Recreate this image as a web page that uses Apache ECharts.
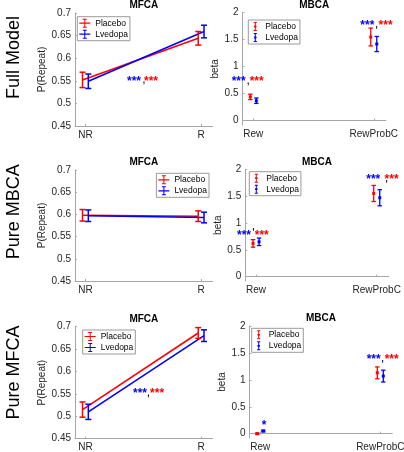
<!DOCTYPE html>
<html><head><meta charset="utf-8">
<script src="https://cdn.jsdelivr.net/npm/echarts@6/dist/echarts.min.js"></script>
<style>html,body{margin:0;padding:0;background:#fff}#c{width:404px;height:452px}</style>
</head><body><div id="c"></div>
<script>
// ---------- data ----------
const mfcaCategories = ['NR', 'R'];
const mbcaCategories = ['Rew', 'RewProbC'];
const rowLabels = ['Full Model', 'Pure MBCA', 'Pure MFCA'];
const mfcaTicks = [0.45, 0.5, 0.55, 0.6, 0.65, 0.7];
const mbcaTicks = [0, 0.5, 1, 1.5, 2];
const groups = ['Placebo', 'Lvedopa'];

const fullMfcaPlacebo = [0.552, 0.644];
const fullMfcaPlaceboErr = [0.017, 0.015];
const fullMfcaLvedopa = [0.549, 0.659];
const fullMfcaLvedopaErr = [0.016, 0.014];
const fullMbcaPlacebo = [0.44, 1.55];
const fullMbcaPlaceboErr = [0.05, 0.165];
const fullMbcaLvedopa = [0.37, 1.42];
const fullMbcaLvedopaErr = [0.05, 0.14];

const mbMfcaPlacebo = [0.598, 0.596];
const mbMfcaPlaceboErr = [0.013, 0.012];
const mbMfcaLvedopa = [0.597, 0.593];
const mbMfcaLvedopaErr = [0.013, 0.012];
const mbMbcaPlacebo = [0.62, 1.55];
const mbMbcaPlaceboErr = [0.07, 0.15];
const mbMbcaLvedopa = [0.65, 1.47];
const mbMbcaLvedopaErr = [0.07, 0.15];

const mfMfcaPlacebo = [0.515, 0.686];
const mfMfcaPlaceboErr = [0.017, 0.012];
const mfMfcaLvedopa = [0.51, 0.68];
const mfMfcaLvedopaErr = [0.017, 0.013];
const mfMbcaPlacebo = [0.0, 1.13];
const mfMbcaPlaceboErr = [0.015, 0.11];
const mfMbcaLvedopa = [0.05, 1.07];
const mfMbcaLvedopaErr = [0.015, 0.11];

// significance annotations (data coordinates, text, which group)
const annFullMfcaX = [1.42, 1.567, 1.506];
const annFullMfcaY = [0.554, 0.554, 0.543];
const annFullMfcaText = ['***', '***', ','];
const annFullMfcaGroup = ['Lvedopa', 'Placebo', 'diff'];
const annFullMbcaX = [0.878, 1.028, 0.958, 1.947, 2.098, 2.025];
const annFullMbcaY = [0.772, 0.772, 0.661, 1.804, 1.804, 1.693];
const annFullMbcaText = ['***', '***', ',', '***', '***', "'"];
const annFullMbcaGroup = ['Lvedopa', 'Placebo', 'diff', 'Lvedopa', 'Placebo', 'diff'];
const annMbMbcaX = [0.90, 1.047, 0.977, 1.971, 2.123, 2.082];
const annMbMbcaY = [0.808, 0.808, 0.851, 1.851, 1.851, 1.739];
const annMbMbcaText = ['***', '***', "'", '***', '***', "'"];
const annMbMbcaGroup = ['Lvedopa', 'Placebo', 'diff', 'Lvedopa', 'Placebo', 'diff'];
const annMfMfcaX = [1.472, 1.619, 1.544];
const annMfMfcaY = [0.556, 0.556, 0.542];
const annMfMfcaText = ['***', '***', ','];
const annMfMfcaGroup = ['Lvedopa', 'Placebo', 'diff'];
const annMfMbcaX = [1.031, 1.945, 2.095, 2.02];
const annMfMbcaY = [0.193, 1.419, 1.419, 1.318];
const annMfMbcaText = ['*', '***', '***', "'"];
const annMfMbcaGroup = ['Lvedopa', 'Lvedopa', 'Placebo', 'diff'];

// ---------- styling / layout ----------
const FONT = 'Liberation Sans, Arial, Helvetica, sans-serif';
const COLORS = { Placebo: '#ff0000', Lvedopa: '#0000ff', diff: '#000000' };
const DODGE = 0.025;
const AXIS_COLOR = '#a6a6a6';
const TEXT_COLOR = '#262626';

const mfcaGrids = [
  { left: 75, top: 13, width: 137.7, height: 113 },
  { left: 75, top: 170, width: 137.7, height: 111 },
  { left: 75, top: 326.7, width: 137.7, height: 112 }
];
const mbcaGrids = [
  { left: 242.5, top: 12.7, width: 143.3, height: 112.3 },
  { left: 245.2, top: 169.3, width: 143.6, height: 111.7 },
  { left: 249.5, top: 326, width: 142.8, height: 112 }
];
const mfcaLegendPos = [{ left: 77.3, top: 16.7 }, { right: 195, top: 173.3 }, { left: 82.7, top: 330 }];
const mbcaLegendPos = [{ left: 248.3, top: 20 }, { left: 249.3, top: 171.7 }, { left: 251.7, top: 328.3 }];
const rowLabelPos = [{ x: 14, y: 57.5 }, { x: 14, y: 211.7 }, { x: 14, y: 372.5 }];

const panels = [
  { kind: 'mfca', row: 0, vals: [fullMfcaPlacebo, fullMfcaLvedopa], errs: [fullMfcaPlaceboErr, fullMfcaLvedopaErr],
    ann: [annFullMfcaX, annFullMfcaY, annFullMfcaText, annFullMfcaGroup] },
  { kind: 'mbca', row: 0, vals: [fullMbcaPlacebo, fullMbcaLvedopa], errs: [fullMbcaPlaceboErr, fullMbcaLvedopaErr],
    ann: [annFullMbcaX, annFullMbcaY, annFullMbcaText, annFullMbcaGroup] },
  { kind: 'mfca', row: 1, vals: [mbMfcaPlacebo, mbMfcaLvedopa], errs: [mbMfcaPlaceboErr, mbMfcaLvedopaErr], ann: null },
  { kind: 'mbca', row: 1, vals: [mbMbcaPlacebo, mbMbcaLvedopa], errs: [mbMbcaPlaceboErr, mbMbcaLvedopaErr],
    ann: [annMbMbcaX, annMbMbcaY, annMbMbcaText, annMbMbcaGroup] },
  { kind: 'mfca', row: 2, vals: [mfMfcaPlacebo, mfMfcaLvedopa], errs: [mfMfcaPlaceboErr, mfMfcaLvedopaErr],
    ann: [annMfMfcaX, annMfMfcaY, annMfMfcaText, annMfMfcaGroup] },
  { kind: 'mbca', row: 2, vals: [mfMbcaPlacebo, mfMbcaLvedopa], errs: [mfMbcaPlaceboErr, mfMbcaLvedopaErr],
    ann: [annMfMbcaX, annMfMbcaY, annMfMbcaText, annMfMbcaGroup] }
];

const mfcaIcon = 'path://M0 3.9H11V5.1H0Z M5 0H6V9H5Z M3.5 0H7.5V1H3.5Z M3.5 8H7.5V9H3.5Z';
const mbcaIcon = 'path://M0 0H0.01V0.01H0Z M9.99 8.99H10V9H9.99Z M4.5 0H5.5V9H4.5Z M3.4 0H6.6V1H3.4Z M3.4 8H6.6V9H3.4Z M3.8 3.6H6.2V5.4H3.8Z';

function errRender(capHalf, lw, marker) {
  return function (params, api) {
    const x = api.value(0), m = api.value(1), e = api.value(2);
    const t = api.coord([x, m + e]), b = api.coord([x, m - e]), c = api.coord([x, m]);
    const color = api.visual('color');
    const st = { stroke: color, lineWidth: lw };
    const ch = [
      { type: 'line', shape: { x1: t[0], y1: t[1], x2: b[0], y2: b[1] }, style: st },
      { type: 'line', shape: { x1: t[0] - capHalf, y1: t[1], x2: t[0] + capHalf, y2: t[1] }, style: st },
      { type: 'line', shape: { x1: b[0] - capHalf, y1: b[1], x2: b[0] + capHalf, y2: b[1] }, style: st }
    ];
    if (marker) ch.push({ type: 'rect', shape: { x: c[0] - 1.5, y: c[1] - 1.5, width: 3, height: 3 }, style: { fill: color } });
    return { type: 'group', children: ch };
  };
}

function annRender(texts, grps) {
  return function (params, api) {
    const p = api.coord([api.value(0), api.value(1)]);
    const txt = texts[params.dataIndex];
    const fs = 12;
    let dy = 0.22 * fs;
    if (txt === ',') dy = -0.37 * fs;
    const w = txt.indexOf('*') >= 0 ? 'bold ' : '';
    return { type: 'text', x: p[0], y: p[1] + dy,
      style: { text: txt, fill: COLORS[grps[params.dataIndex]], font: w + fs + 'px ' + FONT, align: 'center', verticalAlign: 'middle' } };
  };
}

const grid = [], xAxis = [], yAxis = [], series = [], legend = [], graphic = [];

panels.forEach((p, gi) => {
  const isM = p.kind === 'mfca';
  const g = isM ? mfcaGrids[p.row] : mbcaGrids[p.row];
  grid.push(Object.assign({ containLabel: false, outerBoundsMode: 'none' }, g));
  const cats = isM ? mfcaCategories : mbcaCategories;
  xAxis.push({
    type: 'value', gridIndex: gi, min: 0.91, max: 2.1,
    axisLine: { show: true, lineStyle: { color: AXIS_COLOR, width: 1 } },
    axisTick: { show: true, inside: true, length: 2, customValues: [1, 2], lineStyle: { color: AXIS_COLOR } },
    axisLabel: { customValues: [1, 2], formatter: v => cats[Math.round(v) - 1] || '', margin: 4,
      color: TEXT_COLOR, fontSize: 10, fontFamily: FONT },
    splitLine: { show: false }
  });
  const ticks = isM ? mfcaTicks : mbcaTicks;
  yAxis.push({
    type: 'value', gridIndex: gi,
    min: isM ? 0.45 : -0.08, max: isM ? 0.7 : 2,
    name: isM ? 'P(Repeat)' : 'beta', nameLocation: 'middle', nameGap: isM ? 20 : 17,
    nameTextStyle: { color: TEXT_COLOR, fontSize: 10, fontFamily: FONT },
    axisLine: { show: true, lineStyle: { color: AXIS_COLOR, width: 1 } },
    axisTick: { show: true, inside: true, length: 2, customValues: ticks, lineStyle: { color: AXIS_COLOR } },
    axisLabel: { customValues: ticks, formatter: v => String(+v.toFixed(2)), margin: 4,
      color: TEXT_COLOR, fontSize: 10, fontFamily: FONT },
    splitLine: { show: false }
  });
  groups.forEach((name, k) => {
    const off = k === 0 ? -DODGE : DODGE;
    const vals = p.vals[k], errs = p.errs[k];
    const data = vals.map((v, i) => [i + 1 + off, v, errs[i]]);
    if (isM) {
      series.push({ type: 'line', name: name + ' mean', xAxisIndex: gi, yAxisIndex: gi,
        data: vals.map((v, i) => [i + 1 + off, v]), showSymbol: false, symbol: 'none',
        lineStyle: { color: COLORS[name], width: 1.6 }, itemStyle: { color: COLORS[name] },
        silent: true, animation: false, z: 2 });
    }
    series.push({ type: 'custom', name: name, xAxisIndex: gi, yAxisIndex: gi, data: data,
      renderItem: errRender(isM ? 3 : 2.2, isM ? 1.5 : 1.3, !isM),
      itemStyle: { color: COLORS[name] }, clip: false, animation: false, silent: true, z: 3 });
  });
  if (p.ann) {
    const [ax, ay, at, ag] = p.ann;
    series.push({ type: 'custom', name: 'ann' + gi, xAxisIndex: gi, yAxisIndex: gi,
      data: ax.map((x, i) => [x, ay[i]]), renderItem: annRender(at, ag),
      clip: false, animation: false, silent: true, z: 4 });
  }
  const lp = isM ? mfcaLegendPos[p.row] : mbcaLegendPos[p.row];
  legend.push(Object.assign({
    orient: 'vertical', selectedMode: false,
    data: groups.map(n => ({ name: n, icon: isM ? mfcaIcon : mbcaIcon })),
    itemWidth: isM ? 11 : 10, itemHeight: 9, itemGap: 2, padding: [2, 2, 2, 2],
    borderColor: '#9a9a9a', borderWidth: 1, borderRadius: 0, backgroundColor: '#fff',
    itemStyle: { borderWidth: 0 },
    textStyle: { fontSize: 8.5, color: '#000', fontFamily: FONT, padding: 0 }, z: 10
  }, lp));
  graphic.push({ type: 'text', x: g.left + g.width / 2, y: g.top - 7.5,
    style: { text: isM ? 'MFCA' : 'MBCA', font: 'bold 10px ' + FONT, fill: '#000', align: 'center', verticalAlign: 'middle' } });
});

rowLabels.forEach((t, i) => {
  graphic.push({ type: 'text', x: rowLabelPos[i].x, y: rowLabelPos[i].y, rotation: Math.PI / 2,
    style: { text: t, font: '18px ' + FONT, fill: '#000', align: 'center', verticalAlign: 'middle' } });
});

const chart = echarts.init(document.getElementById('c'), null, { renderer: 'canvas' });
chart.setOption({ animation: false, backgroundColor: '#fff', grid, xAxis, yAxis, series, legend, graphic });
</script></body></html>
